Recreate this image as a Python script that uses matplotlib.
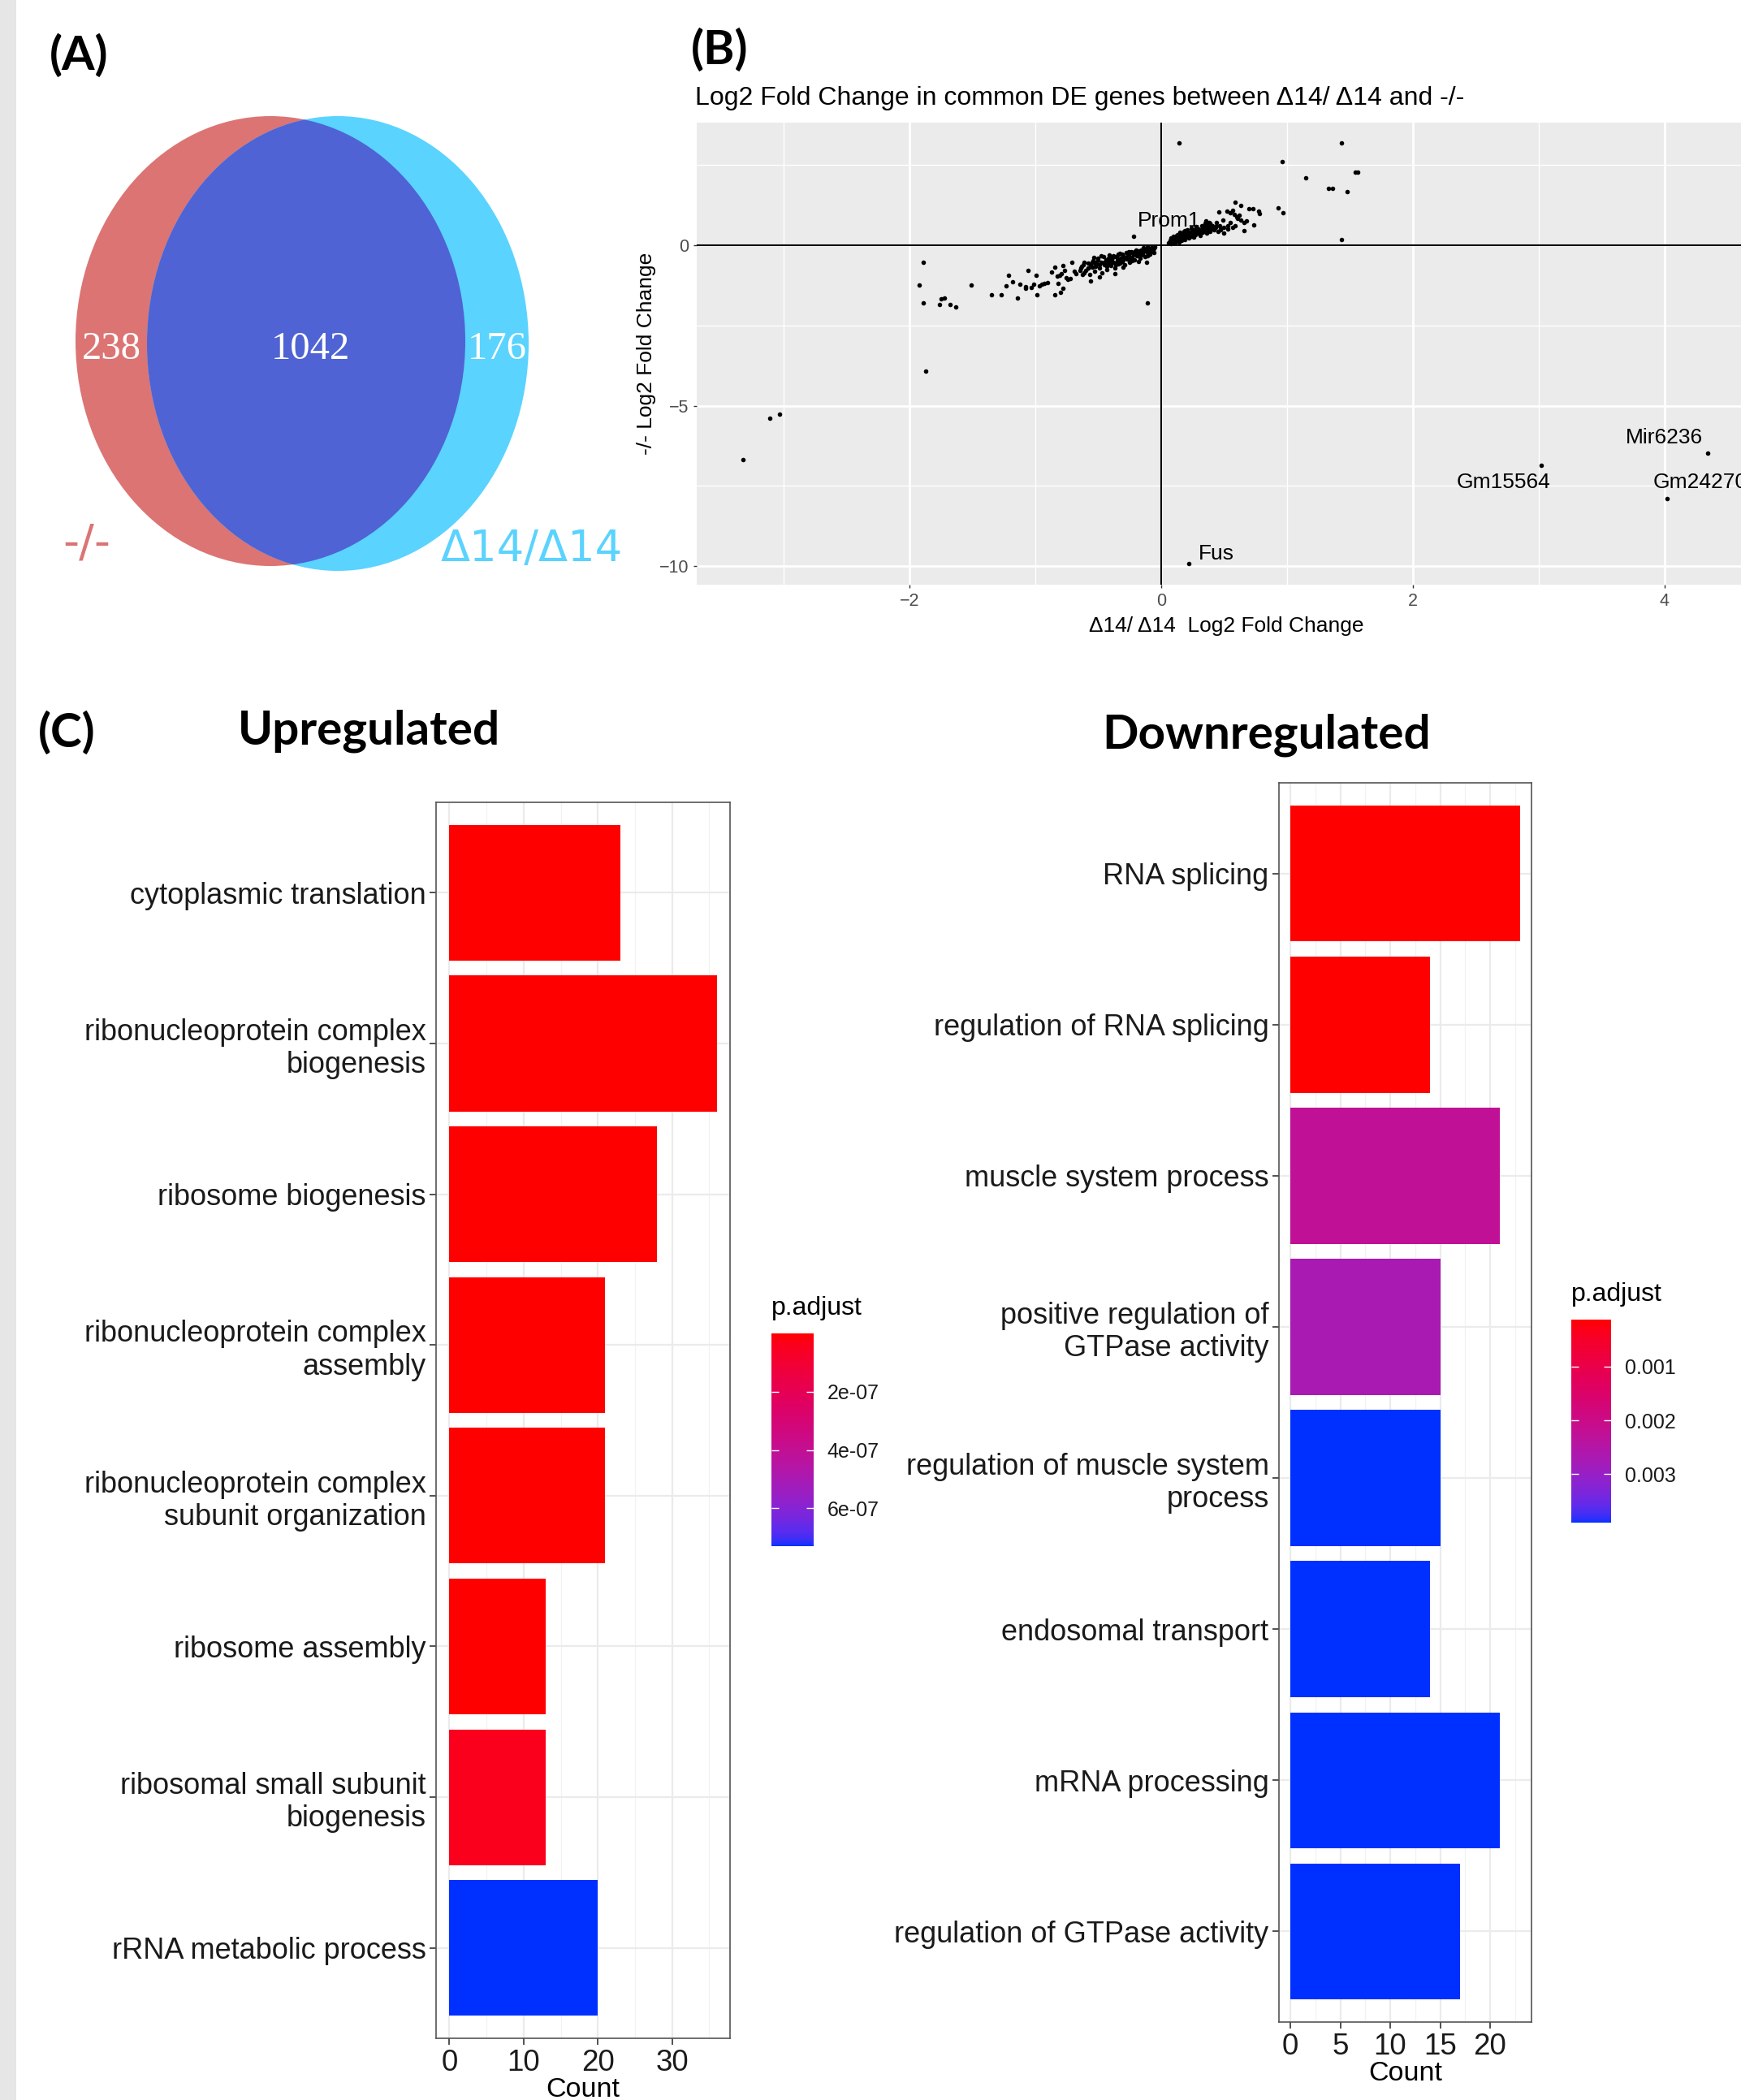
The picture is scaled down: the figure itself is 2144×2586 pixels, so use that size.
import numpy as np
import matplotlib
matplotlib.use('Agg')
import matplotlib.pyplot as plt
from matplotlib.patches import Ellipse, Rectangle
from matplotlib.colors import ListedColormap, Normalize
from matplotlib.cm import ScalarMappable

W, H = 2144, 2586

# (A) Venn counts: -/- only, shared, Δ14/Δ14 only
venn_counts = [238, 1042, 176]
venn_names = ['-/-', 'Δ14/Δ14']

# (B) log2 fold changes of common DE genes: (Δ14/Δ14, -/-)
outliers = [
    (0.14, 3.18), (1.43, 3.18), (0.96, 2.60), (1.15, 2.11), (1.54, 2.27), (1.56, 2.27),
    (1.33, 1.76), (1.36, 1.76), (1.48, 1.66), (0.93, 1.16), (0.97, 1.02), (1.43, 0.19),
    (-0.22, 0.27), (-1.89, -0.54), (-1.92, -1.25), (-1.89, -1.79), (-1.76, -1.86),
    (-1.75, -1.68), (-1.72, -1.64), (-1.68, -1.86), (-1.63, -1.93), (-1.51, -1.24),
    (-1.87, -3.93), (-0.11, -1.79), (-3.11, -5.39), (-3.03, -5.27), (-3.32, -6.69),
    (4.34, -6.48), (3.02, -6.85), (4.02, -7.89), (0.22, -9.93),
]
lower_sparse = [
    (-1.35, -1.55), (-1.27, -1.55), (-1.14, -1.65), (-1.23, -1.27), (-1.21, -0.94),
    (-1.18, -1.15), (-1.12, -1.22), (-1.08, -1.28), (-1.08, -1.35), (-1.06, -0.79),
    (-1.03, -1.32), (-1.015, -1.22), (-0.99, -0.94), (-0.985, -1.55), (-0.968, -1.26),
    (-0.95, -1.22), (-0.93, -1.18), (-0.90, -1.17), (-0.873, -0.83), (-0.847, -0.69),
    (-0.847, -1.54), (-0.80, -1.47), (-0.78, -1.35), (-0.82, -1.20), (-0.826, -0.96),
    (-0.808, -0.93), (-0.783, -0.64), (-0.79, -0.88), (-0.77, -0.79), (-0.753, -1.00),
    (-0.74, -1.06), (-0.72, -1.05), (-0.71, -0.54), (-0.69, -0.81), (-0.675, -0.89),
    (-0.645, -0.79), (-0.634, -0.67), (-0.624, -0.92), (-0.61, -0.52), (-0.58, -0.71),
    (-0.563, -1.11), (-0.546, -0.54), (-0.533, -0.37), (-0.52, -0.61), (-0.505, -0.46),
    (-0.49, -0.98), (-0.477, -0.33), (-0.45, -0.54), (-0.43, -0.67), (-0.41, -0.46),
    (-0.387, -0.37), (-0.37, -0.89), (-0.36, -0.62), (-0.344, -0.29), (-0.32, -0.54),
    (-0.30, -0.69), (-0.28, -0.37), (-0.258, -0.20), (-0.237, -0.46), (-0.215, -0.29),
    (-0.19, -0.20), (-0.18, -0.50), (-0.16, -0.29), (-0.14, -0.16), (-0.118, -0.12),
    (-0.108, -0.33), (-0.086, -0.16), (-0.069, -0.12), (-0.114, -0.54),
]
lower_dense = [
    (-0.62, -0.62), (-0.60, -0.78), (-0.58, -0.55), (-0.57, -0.90), (-0.55, -0.68),
    (-0.54, -0.47), (-0.53, -0.80), (-0.51, -0.58), (-0.50, -0.40), (-0.49, -0.72),
    (-0.48, -0.52), (-0.47, -0.85), (-0.46, -0.35), (-0.45, -0.62), (-0.44, -0.46),
    (-0.43, -0.75), (-0.42, -0.55), (-0.41, -0.30), (-0.40, -0.64), (-0.39, -0.42),
    (-0.38, -0.52), (-0.37, -0.70), (-0.36, -0.36), (-0.35, -0.47), (-0.34, -0.58),
    (-0.33, -0.26), (-0.32, -0.40), (-0.31, -0.50), (-0.30, -0.33), (-0.29, -0.62),
    (-0.28, -0.22), (-0.27, -0.44), (-0.26, -0.30), (-0.25, -0.52), (-0.24, -0.20),
    (-0.23, -0.38), (-0.22, -0.27), (-0.21, -0.45), (-0.20, -0.16), (-0.19, -0.33),
    (-0.18, -0.24), (-0.17, -0.40), (-0.16, -0.14), (-0.15, -0.28), (-0.14, -0.20),
    (-0.13, -0.35), (-0.12, -0.10), (-0.11, -0.23), (-0.10, -0.15), (-0.09, -0.28),
    (-0.08, -0.08), (-0.07, -0.18), (-0.06, -0.11), (-0.05, -0.06), (-0.56, -0.62),
    (-0.52, -0.66), (-0.44, -0.60), (-0.40, -0.50), (-0.35, -0.40), (-0.33, -0.55),
    (-0.30, -0.45), (-0.27, -0.35), (-0.25, -0.25), (-0.23, -0.48), (-0.20, -0.30),
    (-0.18, -0.17), (-0.15, -0.22), (-0.13, -0.14), (-0.10, -0.30), (-0.08, -0.15),
    (-0.06, -0.22), (-0.14, -0.08), (-0.11, -0.05), (-0.09, -0.10), (-0.16, -0.30),
    (-0.21, -0.20), (-0.26, -0.42), (-0.31, -0.28), (-0.36, -0.55), (-0.38, -0.34),
    (-0.42, -0.40), (-0.46, -0.55), (-0.49, -0.62), (-0.53, -0.52), (-0.58, -0.70),
    (-0.61, -0.85), (-0.64, -0.72),
]
upper_dense = [
    (0.06, 0.08), (0.07, 0.14), (0.08, 0.05), (0.08, 0.22), (0.09, 0.11), (0.10, 0.18),
    (0.10, 0.28), (0.11, 0.08), (0.12, 0.15), (0.12, 0.24), (0.13, 0.32), (0.14, 0.11),
    (0.14, 0.20), (0.15, 0.27), (0.16, 0.36), (0.16, 0.15), (0.17, 0.23), (0.18, 0.30),
    (0.18, 0.42), (0.19, 0.19), (0.20, 0.26), (0.20, 0.35), (0.21, 0.48), (0.22, 0.22),
    (0.22, 0.31), (0.23, 0.40), (0.24, 0.28), (0.24, 0.52), (0.25, 0.36), (0.26, 0.45),
    (0.26, 0.25), (0.27, 0.33), (0.28, 0.42), (0.28, 0.58), (0.29, 0.38), (0.30, 0.50),
    (0.31, 0.30), (0.31, 0.44), (0.32, 0.62), (0.33, 0.40), (0.33, 0.53), (0.34, 0.47),
    (0.35, 0.68), (0.36, 0.38), (0.36, 0.58), (0.37, 0.50), (0.38, 0.72), (0.39, 0.44),
    (0.40, 0.62), (0.09, 0.16), (0.11, 0.21), (0.13, 0.18), (0.15, 0.22), (0.17, 0.28),
    (0.19, 0.34), (0.21, 0.38), (0.23, 0.34), (0.25, 0.44), (0.27, 0.50), (0.29, 0.46),
    (0.07, 0.10), (0.12, 0.30), (0.15, 0.40), (0.19, 0.46), (0.24, 0.40), (0.30, 0.40),
    (0.34, 0.56),
]
upper_sparse = [
    (0.587, 1.34), (0.63, 1.23), (0.456, 1.04), (0.52, 1.06), (0.548, 1.02), (0.57, 1.09),
    (0.58, 0.95), (0.598, 0.89), (0.70, 1.13), (0.727, 1.13), (0.774, 1.06), (0.779, 0.98),
    (0.634, 0.78), (0.656, 0.70), (0.677, 0.77), (0.737, 0.64), (0.658, 0.45), (0.49, 0.78),
    (0.44, 0.70), (0.463, 0.60), (0.50, 0.56), (0.527, 0.62), (0.57, 0.56), (0.585, 0.60),
    (0.355, 0.77), (0.387, 0.68), (0.41, 0.60), (0.42, 0.47), (0.45, 0.43), (0.495, 0.39),
    (0.473, 0.51), (0.40, 0.52), (0.43, 0.55), (0.47, 0.47), (0.53, 0.50), (0.55, 0.70),
    (0.61, 0.83), (0.62, 0.93), (0.36, 0.64), (0.38, 0.58), (0.44, 0.62),
]
gene_labels = ['Prom1', 'Fus', 'Gm15564', 'Mir6236', 'Gm24270']
gene_label_x = [0.065, 0.44, 2.72, 4.00, 4.28]
gene_label_y = [0.77, -9.61, -7.39, -6.00, -7.39]

# (C) GO enrichment, top to bottom
up_terms = ['cytoplasmic translation', 'ribonucleoprotein complex\nbiogenesis',
            'ribosome biogenesis', 'ribonucleoprotein complex\nassembly',
            'ribonucleoprotein complex\nsubunit organization', 'ribosome assembly',
            'ribosomal small subunit\nbiogenesis', 'rRNA metabolic process']
up_count = [23, 36, 28, 21, 21, 13, 13, 20]
up_padj = [3.1e-10, 1.2e-10, 2.4e-10, 5.8e-10, 7.5e-10, 9.0e-10, 4.5e-08, 7.3e-07]

down_terms = ['RNA splicing', 'regulation of RNA splicing', 'muscle system process',
              'positive regulation of\nGTPase activity', 'regulation of muscle system\nprocess',
              'endosomal transport', 'mRNA processing', 'regulation of GTPase activity']
down_count = [23, 14, 21, 15, 15, 14, 21, 17]
down_padj = [1.3e-04, 1.4e-04, 2.25e-03, 2.72e-03, 3.90e-03, 3.90e-03, 3.90e-03, 3.90e-03]

SANS = 'Liberation Sans'


def srgb_to_lab(rgb):
    c = np.asarray(rgb, float)
    lin = np.where(c <= 0.04045, c / 12.92, ((c + 0.055) / 1.055) ** 2.4)
    m = np.array([[0.4124, 0.3576, 0.1805], [0.2126, 0.7152, 0.0722], [0.0193, 0.1192, 0.9505]])
    t = (m @ lin) / np.array([0.95047, 1.0, 1.08883])
    d = 6 / 29
    f = np.where(t > d ** 3, np.cbrt(t), t / (3 * d * d) + 4 / 29)
    return np.array([116 * f[1] - 16, 500 * (f[0] - f[1]), 200 * (f[1] - f[2])])


def lab_to_srgb(lab):
    L, a, b = lab
    fy = (L + 16) / 116
    f = np.array([fy + a / 500, fy, fy - b / 200])
    d = 6 / 29
    t = np.where(f > d, f ** 3, 3 * d * d * (f - 4 / 29)) * np.array([0.95047, 1.0, 1.08883])
    minv = np.array([[3.2406, -1.5372, -0.4986], [-0.9689, 1.8758, 0.0415], [0.0557, -0.2040, 1.0570]])
    lin = np.clip(minv @ t, 0, 1)
    return np.where(lin <= 0.0031308, 12.92 * lin, 1.055 * lin ** (1 / 2.4) - 0.055).clip(0, 1)


# red -> blue gradient interpolated in Lab space, as ggplot does
lab_lo = srgb_to_lab([1.0, 0.0, 0.0])
lab_hi = srgb_to_lab([0.0, 0.19, 1.0])
padj_cmap = ListedColormap([lab_to_srgb(lab_lo + (lab_hi - lab_lo) * s) for s in np.linspace(0, 1, 256)])


def px_axes(fig, left, top, right, bottom):
    return fig.add_axes([left / W, 1 - bottom / H, (right - left) / W, (bottom - top) / H])


fig = plt.figure(figsize=(W / 100, H / 100), dpi=100)
plt.rcParams['font.family'] = [SANS, 'DejaVu Sans']

# pixel-space overlay for the Venn diagram and loose text
ov = fig.add_axes([0, 0, 1, 1], zorder=0)
ov.set_xlim(0, W)
ov.set_ylim(H, 0)
ov.axis('off')
ov.add_patch(Rectangle((0, 0), 20, H, color='#E6E6E6', lw=0))

bold = dict(family='Lato', weight='bold', fontsize=42)
ov.text(97, 69, '(A)', ha='center', va='center', **bold)
ov.text(886, 62, '(B)', ha='center', va='center', **bold)
ov.text(82, 903, '(C)', ha='center', va='center', **bold)
ov.text(454, 900, 'Upregulated', ha='center', va='center', **bold)
ov.text(1560, 905, 'Downregulated', ha='center', va='center', **bold)

# (A) Venn
red_e = Ellipse((333, 420), 480, 554, color='#DC7474', lw=0)
cyan_e = Ellipse((416, 423), 470, 560, color='#5AD3FE', lw=0)
ov.add_patch(red_e)
ov.add_patch(cyan_e)
both_e = Ellipse((333, 420), 480, 554, color='#4F63D4', lw=0)
ov.add_patch(both_e)
both_e.set_clip_path(cyan_e)
for x, n in zip([137, 382, 612], venn_counts):
    ov.text(x, 430, str(n), ha='center', va='center', color='white',
            family='Liberation Serif', fontsize=35)
ov.text(107, 669, venn_names[0], ha='center', va='center', color='#DC7474',
        family='DejaVu Sans', fontsize=40)
ov.text(655, 676, venn_names[1], ha='center', va='center', color='#5AD3FE',
        family='DejaVu Sans', fontsize=38)

# (B) scatter of log2 fold changes
axB = px_axes(fig, 858, 151, 2162, 720)
axB.set_facecolor('#EBEBEB')
for s in axB.spines.values():
    s.set_visible(False)
axB.set_xlim(-3.690, 4.723)
axB.set_ylim(-10.582, 3.823)
axB.set_xticks([-2, 0, 2, 4])
axB.set_xticks([-3, -1, 1, 3], minor=True)
axB.set_yticks([-10, -5, 0])
axB.set_yticks([-7.5, -2.5, 2.5], minor=True)
axB.grid(True, which='major', color='white', lw=2.0)
axB.grid(True, which='minor', color='white', lw=1.0)
axB.set_axisbelow(True)
axB.tick_params(which='major', length=3, width=1, color='#333333', labelcolor='#4D4D4D',
                labelsize=15.5, pad=4)
axB.tick_params(which='minor', length=0)
axB.axhline(0, color='black', lw=1.5, zorder=2)
axB.axvline(0, color='black', lw=1.5, zorder=2)
pts = np.array(outliers + lower_sparse + lower_dense + upper_dense + upper_sparse)
axB.scatter(pts[:, 0], pts[:, 1], s=16, color='black', lw=0, zorder=3)
for g, gx, gy in zip(gene_labels, gene_label_x, gene_label_y):
    axB.text(gx, gy, g, ha='center', va='center', fontsize=19, zorder=4)
axB.set_xlabel('Δ14/ Δ14  Log2 Fold Change', fontsize=19, labelpad=6)
axB.set_ylabel('-/- Log2 Fold Change', fontsize=19, labelpad=3)
ov.text(856, 121, 'Log2 Fold Change in common DE genes between Δ14/ Δ14 and -/-',
        ha='left', va='center', fontsize=23)


def go_barplot(box, terms, counts, padj, xlim, major, minor, cbar_box, cbar_ticks, cbar_fmt):
    ax = px_axes(fig, *box)
    norm = Normalize(min(padj), max(padj))
    ypos = np.arange(len(terms))
    ax.barh(ypos, counts, height=0.9, color=padj_cmap(norm(np.array(padj))), zorder=2)
    ax.set_ylim(len(terms) - 0.4, -0.6)
    ax.set_xlim(*xlim)
    ax.set_yticks(ypos)
    ax.set_yticklabels(terms, linespacing=1.2)
    ax.set_xticks(major)
    ax.set_xticks(minor, minor=True)
    ax.grid(True, which='major', color='#EBEBEB', lw=1.6)
    ax.grid(True, which='minor', axis='x', color='#F2F2F2', lw=0.9)
    ax.set_axisbelow(True)
    for s in ax.spines.values():
        s.set_color('#555555')
        s.set_linewidth(1.2)
    ax.tick_params(which='major', length=6, width=1.2, color='#333333', labelcolor='#1A1A1A',
                   pad=3)
    ax.tick_params(axis='y', labelsize=26)
    ax.tick_params(axis='x', labelsize=26.5)
    ax.tick_params(which='minor', length=0)
    ax.set_xlabel('Count', fontsize=24.5, labelpad=0)

    cax = px_axes(fig, *cbar_box)
    cb = fig.colorbar(ScalarMappable(norm=norm, cmap=padj_cmap), cax=cax)
    cb.outline.set_visible(False)
    cax.invert_yaxis()
    cb.set_ticks(cbar_ticks)
    cb.set_ticklabels([cbar_fmt(t) for t in cbar_ticks])
    cax.tick_params(direction='in', length=6.5, width=1, color='white', left=True, right=True,
                    labelleft=False, labelright=True, labelsize=18, pad=12, labelcolor='#1A1A1A')
    ov.text(cbar_box[0], cbar_box[1] - 31, 'p.adjust', ha='left', va='center', fontsize=23)
    return ax


go_barplot((537, 988, 899, 2510), up_terms, up_count, up_padj, (-1.8, 37.8),
           [0, 10, 20, 30], [5, 15, 25, 35], (950, 1642, 1002, 1904),
           [2e-7, 4e-7, 6e-7], lambda t: '%.0e' % t)
go_barplot((1575, 964, 1886, 2490), down_terms, down_count, down_padj, (-1.15, 24.15),
           [0, 5, 10, 15, 20], [2.5, 7.5, 12.5, 17.5, 22.5], (1935, 1625, 1984, 1875),
           [0.001, 0.002, 0.003], lambda t: '%.3f' % t)

fig.savefig('out.png', dpi=100)
